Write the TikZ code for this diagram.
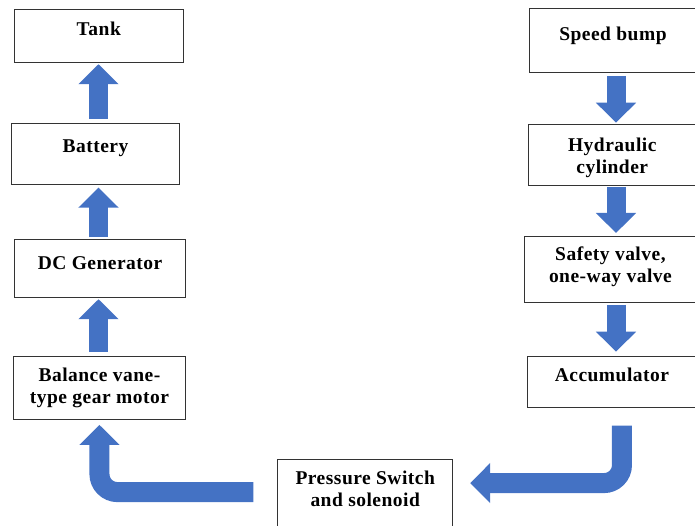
\documentclass[tikz,border=0pt]{standalone}
\usepackage{fontspec}
\setmainfont{Liberation Serif}[LetterSpace=2.5]
\usetikzlibrary{positioning,arrows.meta}

\definecolor{flowblue}{RGB}{68,114,196}

\tikzset{
  box/.style={draw=black!80, line width=0.9pt, inner sep=0pt, anchor=north west},
  txt/.style={font=\bfseries\fontsize{19.5}{22}\selectfont, align=center, inner sep=0pt, anchor=north},
  flow/.style={draw=flowblue, line width=19pt, -{Triangle[width=39pt,length=20pt]}},
  bent/.style={flow, line width=20pt, rounded corners=18pt}
}

\begin{document}
\begin{tikzpicture}[x=1pt,y=-1pt]
    \useasboundingbox (0,0) rectangle (695,526);

    \node[box, minimum width=168.7pt, minimum height=52.4pt] (tank) at (14,9.3) {};
    \node[box, minimum width=168.6pt, minimum height=60.7pt] (battery) at (10.7,123.3) {};
    \node[box, minimum width=171.3pt, minimum height=57.4pt] (dcgen) at (14,239.3) {};
    \node[box, minimum width=172.6pt, minimum height=63.3pt] (motor) at (12.7,355.7) {};

    \node[box, minimum width=167pt, minimum height=63.7pt] (bump) at (529,8.3) {};
    \node[box, minimum width=168.3pt, minimum height=60.7pt] (cylinder) at (527.7,124.3) {};
    \node[box, minimum width=172pt, minimum height=66pt] (valve) at (524,236) {};
    \node[box, minimum width=169pt, minimum height=50.7pt] (accu) at (527,356) {};

    \node[box, minimum width=175pt, minimum height=70.7pt] (pswitch) at (277.3,459.3) {};

    \node[txt, below=12.7pt of tank.north] {Tank};
    \node[txt, below=16.7pt of battery.north] {Battery};
    \node[txt, below=16.7pt of dcgen.north] {DC Generator};
    \node[txt, below=11.6pt of motor.north] {Balance vane-\\type gear motor};
    \node[txt, below=18.3pt of bump.north] {Speed bump};
    \node[txt, below=13pt of cylinder.north] {Hydraulic\\cylinder};
    \node[txt, below=11pt of valve.north] {Safety valve,\\one-way valve};
    \node[txt, below=12pt of accu.north] {Accumulator};
    \node[txt, below=11.4pt of pswitch.north] {Pressure Switch\\and solenoid};

    \coordinate (lcol) at (98.5,0);
    \coordinate (rcol) at (616,0);

    \draw[flow, shorten <=4.3pt, shorten >=1.6pt] (battery.north -| lcol) -- (tank.south -| lcol);
    \draw[flow, shorten <=2pt, shorten >=2.7pt] (dcgen.north -| lcol) -- (battery.south -| lcol);
    \draw[flow, shorten <=4pt, shorten >=1.6pt] (motor.north -| lcol) -- (dcgen.south -| lcol);

    \draw[flow, shorten <=3pt, shorten >=1.6pt] (bump.south -| rcol) -- (cylinder.north -| rcol);
    \draw[flow, shorten <=1pt, shorten >=3pt] (cylinder.south -| rcol) -- (valve.north -| rcol);
    \draw[flow, shorten <=2pt, shorten >=4.3pt] (valve.south -| rcol) -- (accu.north -| rcol);

    \draw[bent, shorten <=18pt, shorten >=17pt] ([xshift=10pt]accu.south) |- ([yshift=12pt]pswitch.east);
    \draw[bent, shorten <=24pt, shorten >=5pt] ([yshift=3pt]pswitch.west) -| (motor.south);

  \end{tikzpicture}
\end{document}
